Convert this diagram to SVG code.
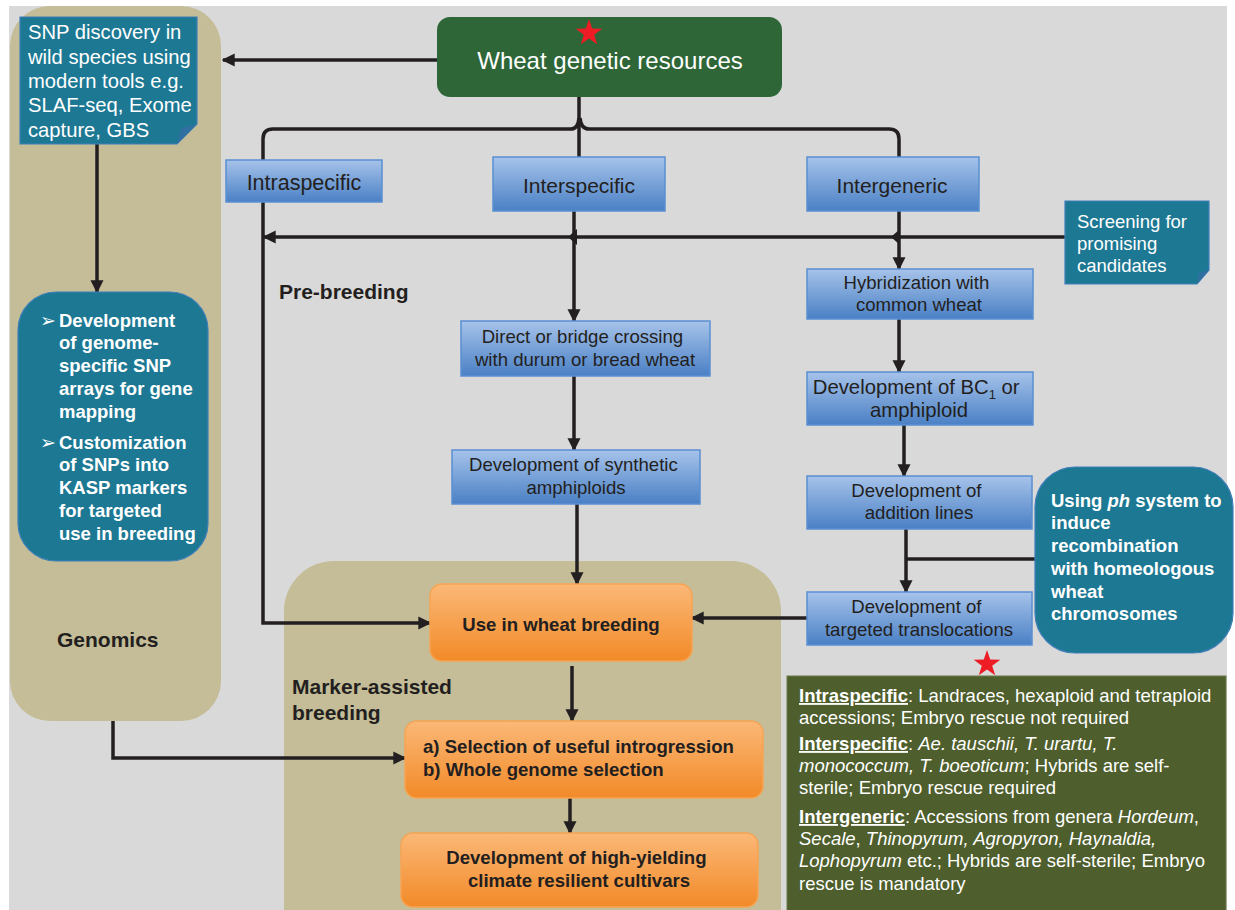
<svg xmlns="http://www.w3.org/2000/svg" width="1235" height="910" viewBox="0 0 1235 910">
<defs>
<linearGradient id="gBlue" x1="0" y1="0" x2="0" y2="1">
<stop offset="0" stop-color="#a6c3ea"/>
<stop offset="1" stop-color="#4a80c5"/>
</linearGradient>
<linearGradient id="gOrange" x1="0" y1="0" x2="0" y2="1">
<stop offset="0" stop-color="#fbb877"/>
<stop offset="1" stop-color="#f28a28"/>
</linearGradient>
<marker id="ah" viewBox="0 0 10 10" refX="9" refY="5" markerWidth="13" markerHeight="14" markerUnits="userSpaceOnUse" orient="auto">
<path d="M0,0 L10,5 L0,10 z" fill="#231f20"/>
</marker>
<style>
.panel{fill:#c4bd97}
.blue{fill:url(#gBlue);stroke:#5a8fd2;stroke-width:1.5}
.orange{fill:url(#gOrange);stroke:#f6a453;stroke-width:1.5}
.teal{fill:#1d7893;stroke:#3e7fb9;stroke-width:1.2}
.fold{fill:#2f6fa1}
.t{font-family:"Liberation Sans",Arial,sans-serif;fill:#231f20}
.w{font-family:"Liberation Sans",Arial,sans-serif;fill:#ffffff}
.b{font-weight:bold}
.c{text-anchor:middle}
.ln{fill:none;stroke:#231f20;stroke-width:3.5}
.u{font-weight:bold;text-decoration:underline}
.i{font-style:italic}
.bul{font-family:"DejaVu Sans",sans-serif;font-weight:normal;font-size:19px}
</style>
</defs>
<rect x="0" y="0" width="1235" height="910" fill="#ffffff"/>
<rect x="9" y="6" width="1218" height="904" fill="#d9d9d9"/>

<g id="genomics-panel">
<rect class="panel" x="10" y="6" width="211" height="715" rx="40"/>
<text class="t b" x="57" y="647" font-size="21">Genomics</text>
</g>
<g id="mab-panel">
<rect class="panel" x="284" y="561" width="497" height="400" rx="50"/>
<text class="t b" x="292" y="694" font-size="21">Marker-assisted</text>
<text class="t b" x="292" y="720" font-size="21">breeding</text>
</g>
<text id="pre-breeding" class="t b" x="279" y="299" font-size="21">Pre-breeding</text>

<g id="connectors">
<path class="ln" d="M437,60 L223,60" marker-end="url(#ah)"/>
<path class="ln" d="M97,144 L97,292" marker-end="url(#ah)"/>
<path class="ln" d="M263,160 L263,139 Q263,129 273,129 L571,129 Q578,129 579,118"/>
<path class="ln" d="M899,157 L899,139 Q899,129 889,129 L589,129 Q581,129 580,118"/>
<path class="ln" d="M579,157 L579,97" stroke-width="4.5"/>
<path class="ln" d="M1065,237 L264,237" marker-end="url(#ah)"/>
<path d="M568,237 L577,229 L577,245 z" fill="#231f20"/>
<path d="M891,237 L900,229 L900,245 z" fill="#231f20"/>
<path class="ln" d="M574,211 L574,321" marker-end="url(#ah)"/>
<path class="ln" d="M899,211 L899,269" marker-end="url(#ah)"/>
<path class="ln" d="M263,202 L263,623 L430,623" marker-end="url(#ah)"/>
<path class="ln" d="M899,319 L899,372" marker-end="url(#ah)"/>
<path class="ln" d="M904,425 L904,476" marker-end="url(#ah)"/>
<path class="ln" d="M906,529 L906,592" marker-end="url(#ah)"/>
<path class="ln" d="M1035,559 L906,559"/>
<path class="ln" d="M807,618 L692,618" marker-end="url(#ah)"/>
<path class="ln" d="M574,376 L574,450" marker-end="url(#ah)"/>
<path class="ln" d="M577,504 L577,584" marker-end="url(#ah)"/>
<path class="ln" d="M572,666 L572,721" marker-end="url(#ah)"/>
<path class="ln" d="M570,798 L570,833" marker-end="url(#ah)"/>
<path class="ln" d="M113,721 L113,758 L405,758" stroke-width="6" marker-end="url(#ah)"/>
</g>

<g id="snp-discovery">
<path class="teal" d="M20,17 L197,17 L197,124 L177,144 L20,144 z"/>
<path class="fold" d="M177,144 L181,128 L197,124 z"/>
<text class="w" font-size="20.2">
<tspan x="28" y="39">SNP discovery in</tspan>
<tspan x="28" y="64">wild species using</tspan>
<tspan x="28" y="88">modern tools e.g.</tspan>
<tspan x="28" y="112">SLAF-seq, Exome</tspan>
<tspan x="28" y="137">capture, GBS</tspan>
</text>
</g>

<g id="snp-arrays">
<rect class="teal" x="18" y="292" width="190" height="269" rx="38"/>
<text class="w bul" x="40" y="327">➢</text>
<text class="w bul" x="40" y="449">➢</text>
<text class="w b" font-size="18.5">
<tspan x="59" y="327">Development</tspan>
<tspan x="59" y="349">of genome-</tspan>
<tspan x="59" y="372">specific SNP</tspan>
<tspan x="59" y="395">arrays for gene</tspan>
<tspan x="59" y="418">mapping</tspan>
<tspan x="59" y="449">Customization</tspan>
<tspan x="59" y="471">of SNPs into</tspan>
<tspan x="59" y="494">KASP markers</tspan>
<tspan x="59" y="517">for targeted</tspan>
<tspan x="59" y="540">use in breeding</tspan>
</text>
</g>

<g id="wheat-genetic-resources">
<rect x="437" y="17" width="345" height="80" rx="13" fill="#2e6637"/>
<polygon points="589,19 592.2,28.6 602.3,28.7 594.2,34.7 597.2,44.3 589,38.5 580.8,44.3 583.8,34.7 575.7,28.7 585.8,28.6" fill="#ee1c25"/>
<text class="w c" x="610" y="69" font-size="24">Wheat genetic resources</text>
</g>

<g id="intraspecific">
<rect class="blue" x="226" y="160" width="156" height="42"/>
<text class="t c" x="304" y="190" font-size="21.5">Intraspecific</text>
</g>
<g id="interspecific">
<rect class="blue" x="493" y="157" width="172" height="54"/>
<text class="t c" x="579" y="193" font-size="21">Interspecific</text>
</g>
<g id="intergeneric">
<rect class="blue" x="807" y="157" width="172" height="54"/>
<text class="t c" x="892" y="193" font-size="21">Intergeneric</text>
</g>

<g id="screening">
<path class="teal" d="M1065,201 L1209,201 L1209,270 L1197,284 L1065,284 z"/>
<path class="fold" d="M1197,284 L1199,273 L1209,270 z"/>
<text class="w" font-size="18.5">
<tspan x="1077" y="228">Screening for</tspan>
<tspan x="1077" y="250">promising</tspan>
<tspan x="1077" y="272">candidates</tspan>
</text>
</g>

<g id="hybridization">
<rect class="blue" x="807" y="269" width="226" height="50"/>
<text class="t c" font-size="18.6">
<tspan x="919" y="289">Hybridization with</tspan>
<tspan x="919" y="311">common wheat</tspan>
</text>
</g>
<g id="bc1">
<rect class="blue" x="807" y="372" width="226" height="53"/>
<text class="t c" font-size="20.3">
<tspan x="919" y="394">Development of BC<tspan font-size="13" dy="5">1</tspan><tspan dy="-5"> or</tspan></tspan>
<tspan x="919" y="417">amphiploid</tspan>
</text>
</g>
<g id="addition-lines">
<rect class="blue" x="807" y="476" width="225" height="53"/>
<text class="t c" font-size="18.6">
<tspan x="919" y="497">Development of</tspan>
<tspan x="919" y="519">addition lines</tspan>
</text>
</g>
<g id="translocations">
<rect class="blue" x="807" y="592" width="225" height="53"/>
<text class="t c" font-size="18.6">
<tspan x="919" y="613">Development of</tspan>
<tspan x="919" y="636">targeted translocations</tspan>
</text>
</g>

<g id="ph-system">
<rect class="teal" x="1035" y="467" width="198" height="186" rx="40"/>
<text class="w b" font-size="18.5">
<tspan x="1051" y="507">Using <tspan font-style="italic">ph</tspan> system to</tspan>
<tspan x="1051" y="529">induce</tspan>
<tspan x="1051" y="552">recombination</tspan>
<tspan x="1051" y="575">with homeologous</tspan>
<tspan x="1051" y="598">wheat</tspan>
<tspan x="1051" y="620">chromosomes</tspan>
</text>
</g>

<g id="direct-crossing">
<rect class="blue" x="461" y="321" width="249" height="55"/>
<text class="t c" font-size="18.6">
<tspan x="585" y="343">Direct or bridge crossing</tspan>
<tspan x="585" y="366">with durum or bread wheat</tspan>
</text>
</g>
<g id="synthetic-amphiploids">
<rect class="blue" x="452" y="450" width="248" height="54"/>
<text class="t c" font-size="18.6">
<tspan x="576" y="471">Development of synthetic</tspan>
<tspan x="576" y="494">amphiploids</tspan>
</text>
</g>

<g id="use-in-breeding">
<rect class="orange" x="430" y="584" width="262" height="77" rx="12"/>
<text class="t b c" x="561" y="631" font-size="18.6">Use in wheat breeding</text>
</g>
<g id="selection">
<rect class="orange" x="405" y="721" width="358" height="77" rx="12"/>
<text class="t b" font-size="18.6">
<tspan x="423" y="753">a) Selection of useful introgression</tspan>
<tspan x="423" y="776">b) Whole genome selection</tspan>
</text>
</g>
<g id="cultivars">
<rect class="orange" x="401" y="833" width="357" height="74" rx="12"/>
<text class="t b c" font-size="18.6">
<tspan x="579" y="864">Development of high-yielding</tspan>
<tspan x="579" y="887">climate resilient cultivars</tspan>
</text>
</g>

<g id="info-box">
<polygon points="987,650 990.2,659.6 1000.3,659.7 992.2,665.7 995.2,675.3 987,669.5 978.8,675.3 981.8,665.7 973.7,659.7 983.8,659.6" fill="#ee1c25"/>
<rect x="787" y="676" width="439" height="240" fill="#4e5e2c" stroke="#6a7a48" stroke-width="1"/>
<text class="w" font-size="18.5">
<tspan x="799" y="702"><tspan class="u">Intraspecific</tspan>: Landraces, hexaploid and tetraploid</tspan>
<tspan x="799" y="724">accessions; Embryo rescue not required</tspan>
<tspan x="799" y="750"><tspan class="u">Interspecific</tspan>: <tspan class="i">Ae. tauschii, T. urartu, T.</tspan></tspan>
<tspan x="799" y="772"><tspan class="i">monococcum, T. boeoticum</tspan>; Hybrids are self-</tspan>
<tspan x="799" y="794">sterile; Embryo rescue required</tspan>
<tspan x="799" y="823"><tspan class="u">Intergeneric</tspan>: Accessions from genera <tspan class="i">Hordeum</tspan>,</tspan>
<tspan x="799" y="845"><tspan class="i">Secale</tspan>, <tspan class="i">Thinopyrum, Agropyron, Haynaldia,</tspan></tspan>
<tspan x="799" y="867"><tspan class="i">Lophopyrum</tspan> etc.; Hybrids are self-sterile; Embryo</tspan>
<tspan x="799" y="890">rescue is mandatory</tspan>
</text>
</g>
</svg>
